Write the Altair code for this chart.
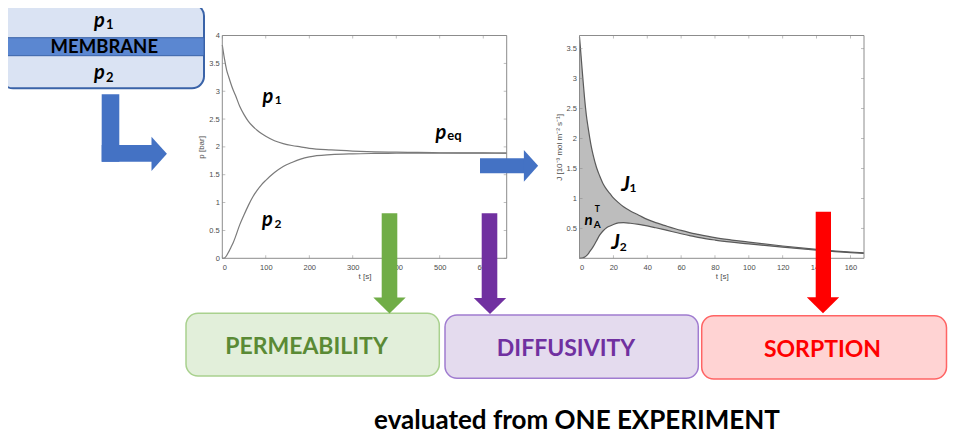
import altair as alt
import pandas as pd

# ---------------- data ----------------
# pressure plot
t_p = [0, 5, 10, 15, 20, 25, 30, 40, 50, 60, 70, 80, 90, 100, 120, 140, 160, 180, 200,
       250, 300, 350, 400, 450, 500, 550, 600, 654]
p1 = [3.83, 3.58, 3.38, 3.25, 3.13, 3.02, 2.93, 2.73, 2.58, 2.46, 2.37, 2.30, 2.24, 2.19,
      2.11, 2.06, 2.025, 2.0, 1.975, 1.945, 1.925, 1.912, 1.905, 1.90, 1.895, 1.893, 1.891, 1.89]
p2 = [0.0, 0.005, 0.05, 0.12, 0.2, 0.28, 0.38, 0.6, 0.78, 0.95, 1.1, 1.22, 1.32, 1.4,
      1.54, 1.65, 1.72, 1.78, 1.82, 1.86, 1.875, 1.882, 1.886, 1.888, 1.889, 1.89, 1.89, 1.89]

# flux plot
t_J = [0, 1, 2, 3, 4, 5, 6, 7, 8, 10, 12, 14, 16, 18, 20, 23, 26, 30, 35, 40, 45, 50,
       60, 65, 70, 80, 90, 100, 120, 140, 160, 168]
J1 = [3.70, 3.35, 3.0, 2.67, 2.40, 2.20, 2.02, 1.86, 1.73, 1.52, 1.37, 1.24, 1.15, 1.08,
      1.01, 0.93, 0.86, 0.79, 0.72, 0.65, 0.595, 0.55, 0.465, 0.43, 0.40, 0.345, 0.305,
      0.27, 0.205, 0.15, 0.105, 0.092]
J2 = [0.0, 0.003, 0.01, 0.02, 0.04, 0.07, 0.11, 0.15, 0.19, 0.29, 0.39, 0.46, 0.51, 0.54,
      0.565, 0.59, 0.595, 0.585, 0.565, 0.54, 0.51, 0.478, 0.41, 0.38, 0.35, 0.305, 0.27,
      0.24, 0.185, 0.135, 0.095, 0.083]

# tick labels
p_xticks = [0, 100, 200, 300, 400, 500, 600]
p_yticks = [0, 0.5, 1, 1.5, 2, 2.5, 3, 3.5, 4]
J_xticks = [0, 20, 40, 60, 80, 100, 120, 140, 160]
J_yticks = [0.5, 1, 1.5, 2, 2.5, 3, 3.5]

# ---------------- layout (page pixels) ----------------
W, H = 940, 426
P_DOM_X, P_DOM_Y = [0, 654], [0, 4]
J_DOM_X, J_DOM_Y = [0, 168], [0, 3.72]
P_RNG_X, J_RNG_X = [214.3, 498.7], [571.5, 856]
RNG_Y = [250.3, 27.5]


def sx(dom, rng):
    return alt.Scale(domain=dom, range=rng, nice=False, zero=False)


PAGE_X = sx([0, 956], [-8, 948])
PAGE_Y = sx([0, 442], [-8, 434])

axis_style = dict(domain=False, ticks=False, grid=False, labelFont="Liberation Sans",
                  labelFontSize=7.5, labelColor="#4d4d4d", titleFont="Liberation Sans",
                  titleFontSize=8, titleFontWeight="normal", titleColor="#4d4d4d",
                  labelExpr="'' + datum.value")

# ---------------- diagram pieces ----------------
boxes = pd.DataFrame({
    "x0": [1, 186, 445, 701.7], "x1": [204, 439.3, 698.3, 946.5],
    "y0": [4, 313.3, 315, 315.7], "y1": [88.3, 376, 378.3, 379],
    "fill": ["#DAE3F3", "#E2EFDA", "#E4DBEE", "#FFD3D3"],
    "stroke": ["#3A63A8", "#A9D18E", "#A07CD0", "#FF6464"],
    "sw": [2, 1.5, 1.5, 1.5],
})
band = pd.DataFrame({"x0": [1], "x1": [204], "y0": [37.7], "y1": [55.7]})

shafts = pd.DataFrame({
    "x0": [101.7, 101.7, 480, 381.7, 481.7, 815.7],
    "x1": [119.3, 152.4, 524, 397.3, 497.3, 831],
    "y0": [94.3, 145, 158.3, 213.3, 213.3, 211.7],
    "y1": [161.7, 161.7, 173.3, 298.3, 298.3, 298],
    "c": ["#4472C4", "#4472C4", "#4472C4", "#70AD47", "#7030A0", "#FF0000"],
})
heads_right = pd.DataFrame({"x": [159.2, 531], "y": [153.85, 165.8], "s": [1176, 1005],
                            "c": ["#4472C4", "#4472C4"]})
heads_down = pd.DataFrame({"x": [389.5, 490, 823], "y": [305.5, 306, 305.3],
                           "s": [1050, 1050, 1050], "c": ["#70AD47", "#7030A0", "#FF0000"]})

txt_it = pd.DataFrame({
    "t": ["p", "p", "p", "p", "p", "J", "J", "n"],
    "x": [99.5, 99.5, 268, 267.5, 441, 625.5, 615.5, 588.5],
    "y": [27, 78.5, 102.5, 226, 139, 191, 249, 225],
    "s": [20, 20, 20, 20, 20, 21, 21, 15],
})
txt_b = pd.DataFrame({
    "t": ["1", "2", "MEMBRANE", "1", "2", "eq", "1", "2", "T", "A",
          "PERMEABILITY", "DIFFUSIVITY", "SORPTION", "evaluated from ONE EXPERIMENT"],
    "x": [109.7, 109.7, 104.3, 278.3, 278, 454.5, 633, 623.3, 597.3, 597.2,
          306.5, 566, 822.5, 577],
    "y": [29.3, 81.7, 53.3, 103.5, 228.3, 140, 192, 251, 211.7, 228,
          354, 356, 357.3, 429],
    "s": [13, 13, 18.5, 12, 12, 13, 12, 12, 8.5, 10, 23, 23, 23, 26],
    "c": ["black"] * 10 + ["#5A8A35", "#7030A0", "#FF0000", "black"],
})


def page_rect(df, **mk):
    return alt.Chart(df).mark_rect(**mk).encode(
        x=alt.X("x0:Q", scale=PAGE_X, axis=None), x2="x1:Q",
        y=alt.Y("y0:Q", scale=PAGE_Y, axis=None), y2="y1:Q")


box_layer = page_rect(boxes, cornerRadius=12).encode(
    fill=alt.Fill("fill:N", scale=None), stroke=alt.Stroke("stroke:N", scale=None),
    strokeWidth=alt.StrokeWidth("sw:Q", scale=None))
band_layer = page_rect(band, fill="#5B87D1", stroke="#3A63A8", strokeWidth=1)
shaft_layer = page_rect(shafts).encode(color=alt.Color("c:N", scale=None))


def head_layer(df, shape):
    return alt.Chart(df).mark_point(shape=shape, filled=True, opacity=1, strokeWidth=0).encode(
        x=alt.X("x:Q", scale=PAGE_X, axis=None), y=alt.Y("y:Q", scale=PAGE_Y, axis=None),
        size=alt.Size("s:Q", scale=None), color=alt.Color("c:N", scale=None))


hr_layer = head_layer(heads_right, "M-0.45,-1L0.45,0L-0.45,1Z")
hd_layer = head_layer(heads_down, "M-1,-0.49L1,-0.49L0,0.49Z")

it_layer = alt.Chart(txt_it).mark_text(font="Lato", fontWeight="bold", fontStyle="italic",
                                       align="center", baseline="alphabetic",
                                       color="black").encode(
    x=alt.X("x:Q", scale=PAGE_X, axis=None), y=alt.Y("y:Q", scale=PAGE_Y, axis=None),
    text="t:N", size=alt.Size("s:Q", scale=None))
b_layer = alt.Chart(txt_b).mark_text(font="Lato", fontWeight="bold", align="center",
                                     baseline="alphabetic").encode(
    x=alt.X("x:Q", scale=PAGE_X, axis=None), y=alt.Y("y:Q", scale=PAGE_Y, axis=None),
    text="t:N", size=alt.Size("s:Q", scale=None), color=alt.Color("c:N", scale=None))


# ---------------- plot helpers ----------------
def frame_layers(domx, domy, rngx, xt, yt, ytitle, xtitle):
    XS, YS = sx(domx, rngx), sx(domy, RNG_Y)
    fr = pd.DataFrame({"x0": [domx[0]], "x1": [domx[1]], "y0": [domy[0]], "y1": [domy[1]]})
    frame = alt.Chart(fr).mark_rect(fillOpacity=0, stroke="#8c8c8c", strokeWidth=1).encode(
        x=alt.X("x0:Q", scale=XS, axis=alt.Axis(orient="bottom", offset=RNG_Y[0] - H,
                                                 values=xt, labelPadding=5, title=xtitle,
                                                 titlePadding=2, **axis_style)),
        x2="x1:Q",
        y=alt.Y("y0:Q", scale=YS, axis=alt.Axis(orient="left", offset=-rngx[0], values=yt,
                                                 labelPadding=3, title=ytitle,
                                                 titlePadding=3, **axis_style)),
        y2="y1:Q")
    out = [frame]
    tb = pd.DataFrame({"x": xt, "y": [domy[0]] * len(xt)})
    tt = pd.DataFrame({"x": xt, "y": [domy[1]] * len(xt)})
    tl = pd.DataFrame({"x": [domx[0]] * len(yt), "y": yt})
    tr = pd.DataFrame({"x": [domx[1]] * len(yt), "y": yt})
    for df, orient, xo, yo in [(tb, "vertical", 0, -1.5), (tt, "vertical", 0, 1.5),
                               (tl, "horizontal", 1.5, 0), (tr, "horizontal", -1.5, 0)]:
        out.append(alt.Chart(df).mark_tick(orient=orient, size=3, thickness=0.8,
                                           color="#8c8c8c", xOffset=xo, yOffset=yo).encode(
            x=alt.X("x:Q", scale=XS, axis=None), y=alt.Y("y:Q", scale=YS, axis=None)))
    return out


# pressure plot
p_long = pd.DataFrame({"t": t_p + t_p, "v": p1 + p2,
                       "series": ["p1"] * len(t_p) + ["p2"] * len(t_p)})
p_lines = alt.Chart(p_long).mark_line(color="#7a7a7a", strokeWidth=1.2,
                                      interpolate="monotone").encode(
    x=alt.X("t:Q", scale=sx(P_DOM_X, P_RNG_X), axis=None),
    y=alt.Y("v:Q", scale=sx(P_DOM_Y, RNG_Y), axis=None), detail="series:N")

# flux plot
J_wide = pd.DataFrame({"t": t_J, "J1": J1, "J2": J2})
J_area = alt.Chart(J_wide).mark_area(color="#bdbdbd", opacity=1, interpolate="monotone").encode(
    x=alt.X("t:Q", scale=sx(J_DOM_X, J_RNG_X), axis=None),
    y=alt.Y("J1:Q", scale=sx(J_DOM_Y, RNG_Y), axis=None), y2="J2:Q")
J_long = pd.DataFrame({"t": t_J + t_J, "v": J1 + J2,
                       "series": ["J1"] * len(t_J) + ["J2"] * len(t_J)})
J_lines = alt.Chart(J_long).mark_line(color="#5a5a5a", strokeWidth=1.2,
                                      interpolate="monotone").encode(
    x=alt.X("t:Q", scale=sx(J_DOM_X, J_RNG_X), axis=None),
    y=alt.Y("v:Q", scale=sx(J_DOM_Y, RNG_Y), axis=None), detail="series:N")

p_frame = frame_layers(P_DOM_X, P_DOM_Y, P_RNG_X, p_xticks, p_yticks, "p [bar]", "t [s]")
J_frame = frame_layers(J_DOM_X, J_DOM_Y, J_RNG_X, J_xticks, J_yticks,
                       "J [10⁻³ mol m⁻² s⁻¹]", "t [s]")

layers = ([box_layer, band_layer, p_lines] + p_frame + [J_area, J_lines] + J_frame +
          [shaft_layer, hr_layer, hd_layer, it_layer, b_layer])

chart = alt.layer(*layers).resolve_scale(
    x="independent", y="independent", size="independent", color="independent",
    fill="independent", stroke="independent", strokeWidth="independent"
).properties(
    width=W, height=H, autosize=alt.AutoSizeParams(type="none"), padding=0,
    background="white"
).configure_view(strokeWidth=0)

chart.save("out.html", embed_options={"renderer": "svg", "actions": False})
